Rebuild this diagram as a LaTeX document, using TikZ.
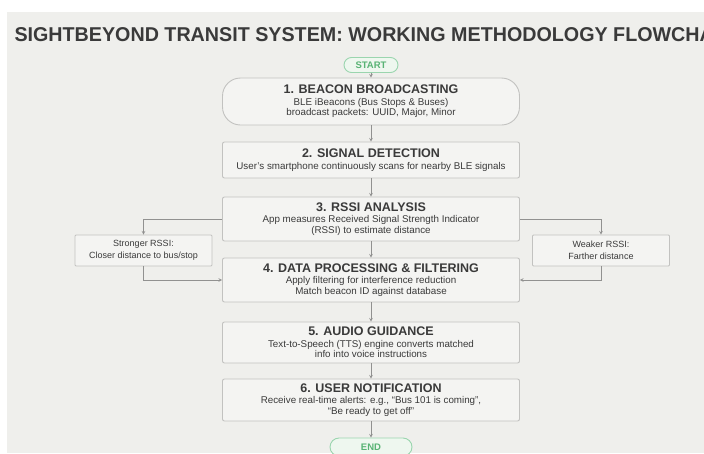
\documentclass[tikz,border=0pt]{standalone}
\usepackage{fontspec}
\setmainfont{Liberation Sans}
\usepackage{graphicx}
\usetikzlibrary{shapes,positioning}
\usetikzlibrary{arrows}

\definecolor{bg}{HTML}{EFEFEC}
\definecolor{boxfill}{HTML}{F4F4F2}
\definecolor{boxline}{HTML}{C2C2C0}
\definecolor{ink}{HTML}{3A3A3A}
\definecolor{pillline}{HTML}{9AD5AE}
\definecolor{pillfill}{HTML}{EEF7EF}
\definecolor{pilltext}{HTML}{58B374}

\tikzset{
  stepbox/.style={draw=boxline,fill=boxfill,line width=0.9pt,rounded corners=2pt,
    minimum width=297pt,align=center,text=ink,inner sep=0pt,
    font=\fontsize{9.8}{10.5}\selectfont},
  sidebox/.style={draw=boxline,fill=boxfill,line width=0.8pt,rounded corners=1pt,
    minimum width=137pt,minimum height=31pt,align=center,text=ink,inner sep=0pt,
    font=\fontsize{9}{12.5}\selectfont},
  pill/.style={draw=pillline,fill=pillfill,line width=0.9pt,text=pilltext,
    font=\fontsize{9.5}{10}\selectfont\bfseries},
  link/.style={draw=boxline!75!black,line width=0.6pt,->,>=stealth},
}

\newcommand{\steptitle}[1]{{\fontsize{12.5}{13}\selectfont\bfseries #1}\\[0.8pt]}

\begin{document}
\begin{tikzpicture}[x=1pt,y=-1pt]
\useasboundingbox (0,0) rectangle (704,453);
\clip (0,0) rectangle (704,453);
\fill[white] (0,0) rectangle (704,453);
\fill[bg] (7,12) rectangle (704,453);

\node[anchor=west,text=ink,font=\fontsize{20}{21}\selectfont\bfseries] (title) at (11,35)
  {\scalebox{0.985}[1]{SIGHTBEYOND TRANSIT SYSTEM: WORKING METHODOLOGY FLOWCHART}};

% main column
\node[pill,rounded corners=7.5pt,minimum width=54pt,minimum height=15pt] (start) at (371,65) {START};
\node[stepbox,rounded corners=18pt,minimum height=47pt] (beacon) at (371,101.5)
  {\steptitle{1. BEACON BROADCASTING}BLE iBeacons (Bus Stops \& Buses)\\broadcast packets: UUID, Major, Minor};
\node[stepbox,minimum height=36pt] (detect) at (371,160)
  {\steptitle{2. SIGNAL DETECTION}User's smartphone continuously scans for nearby BLE signals};
\node[stepbox,minimum height=44pt] (rssi) at (371,219)
  {\steptitle{3. RSSI ANALYSIS}App measures Received Signal Strength Indicator\\(RSSI) to estimate distance};
\node[stepbox,minimum height=44pt] (filter) at (371,280)
  {\steptitle{4. DATA PROCESSING \& FILTERING}Apply filtering for interference reduction\\Match beacon ID against database};
\node[stepbox,minimum height=41pt] (audio) at (371,342.5)
  {\steptitle{5. AUDIO GUIDANCE}Text-to-Speech (TTS) engine converts matched\\info into voice instructions};
\node[stepbox,minimum height=42pt] (notify) at (371,400)
  {\steptitle{6. USER NOTIFICATION}Receive real-time alerts: e.g., ``Bus 101 is coming'',\\``Be ready to get off''};
\node[pill,rounded corners=9pt,minimum width=82pt,minimum height=18pt] (finish) at (371,447) {END};

\foreach \a/\b in {start/beacon,beacon/detect,detect/rssi,rssi/filter,filter/audio,audio/notify,notify/finish}
  {\draw[link] (\a.south) -- (\b.north);}

% side branches
\node[sidebox] (strong) at (143.5,250.5) {Stronger RSSI:\\Closer distance to bus/stop};
\node[sidebox] (weak) at (601,250.5) {Weaker RSSI:\\Farther distance};

\draw[link] (rssi.west) -| (strong.north);
\draw[link] (strong.south) |- (filter.west);
\draw[link] (rssi.east) -| (weak.north);
\draw[link] (weak.south) |- (filter.east);

\end{tikzpicture}
\end{document}
